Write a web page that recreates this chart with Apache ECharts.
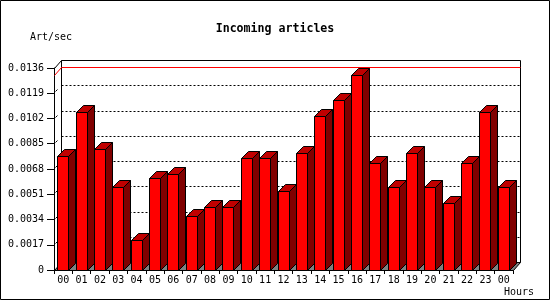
<!DOCTYPE html>
<html>
<head>
<meta charset="utf-8">
<script src="https://cdn.jsdelivr.net/npm/echarts@6/dist/echarts.min.js"></script>
<style>html,body{margin:0;padding:0;background:#fff}#c{width:550px;height:300px}</style>
</head>
<body>
<div id="c"></div>
<script>
const hours = ['00','01','02','03','04','05','06','07','08','09','10','11','12','13','14','15','16','17','18','19','20','21','22','23','00'];
const artPerSec = [0.00768, 0.01062, 0.00815, 0.00557, 0.00202, 0.00617, 0.00644, 0.00361, 0.00422, 0.00422, 0.00752, 0.00752, 0.00530, 0.00786, 0.01037, 0.01145, 0.01311, 0.00723, 0.00557, 0.00786, 0.00557, 0.00449, 0.00723, 0.01062, 0.00557];
const yTickLabels = ['0','0.0017','0.0034','0.0051','0.0068','0.0085','0.0102','0.0119','0.0136'];
const yMin = 0, yMax = 0.0136, yStep = 0.0017;

const FONT = 'DejaVu Sans Mono';
const DX = 7, DY = 8;      // depth of the back plane
const BD = 7;              // depth of a bar
const BW = 11;             // bar front width
const maxVal = Math.max.apply(null, artPerSec);

function seg(x1, y1, x2, y2, color, z2, dash) {
  return {type: 'line', z2: z2, shape: {x1: x1, y1: y1, x2: x2, y2: y2},
    style: {stroke: color, lineWidth: 1, lineDash: dash || null}};
}

function renderItem(params, api) {
  const i = api.value(0), v = api.value(1);
  const band = api.size([1, 0])[0];
  const pTop = api.coord([i, v]);
  const pBase = api.coord([i, 0]);
  const x0 = Math.round(pBase[0] - 6) + 0.5;
  const yT = Math.round(pTop[1]) + 0.5;
  const yB = Math.round(pBase[1]) + 0.5;
  const children = [];
  if (params.dataIndex === 0) {
    const n = artPerSec.length;
    const xL = Math.round(api.coord([0, 0])[0] - band / 2) + 0.5;
    const xR = Math.round(api.coord([n - 1, 0])[0] + band / 2) + 0.5;
    const yTopAxis = Math.round(api.coord([0, yMax])[1]) + 0.5;
    const yM = Math.round(api.coord([0, maxVal])[1]) + 0.5;
    // back plane gridlines (dotted)
    for (let k = 1; k < yTickLabels.length - 1; k++) {
      const yy = Math.round(api.coord([0, yMin + k * yStep])[1]) + 0.5;
      children.push(seg(xL + DX, yy - DY, xR + DX, yy - DY, '#000', 0, [2, 2]));
      children.push(seg(xL + 1, yy - 2, xL + 3, yy - 4, '#000', 0));
    }
    // back plane border
    children.push(seg(xL + DX, yTopAxis - DY, xR + DX, yTopAxis - DY, '#000', 0));
    children.push(seg(xR + DX, yTopAxis - DY, xR + DX, yB - DY, '#000', 0));
    children.push(seg(xL + DX, yTopAxis - DY, xL + DX, yB - DY, '#000', 0));
    children.push(seg(xL, yTopAxis, xL + DX, yTopAxis - DY, '#000', 0));
    // red max line
    children.push(seg(xL, yM, xL + DX, yM - DY, '#ff0000', 1));
    children.push(seg(xL + DX, yM - DY, xR + DX, yM - DY, '#ff0000', 1));
    // floor
    children.push({type: 'polygon', z2: 2, shape: {points: [[xL, yB], [xL + DX, yB - DY], [xR + DX, yB - DY], [xR, yB]]},
      style: {fill: '#808080', stroke: '#000', lineWidth: 1}});
  }
  children.push({type: 'polygon', z2: 10, shape: {points: [[x0, yT], [x0 + BW, yT], [x0 + BW, yB], [x0, yB]]},
    style: {fill: '#ff0000', stroke: '#000', lineWidth: 1}});
  children.push({type: 'polygon', z2: 10, shape: {points: [[x0, yT], [x0 + BD, yT - BD], [x0 + BW + BD, yT - BD], [x0 + BW, yT]]},
    style: {fill: '#c00000', stroke: '#000', lineWidth: 1}});
  children.push({type: 'polygon', z2: 10, shape: {points: [[x0 + BW, yT], [x0 + BW + BD, yT - BD], [x0 + BW + BD, yB - BD], [x0 + BW, yB]]},
    style: {fill: '#800000', stroke: '#000', lineWidth: 1}});
  return {type: 'group', children: children};
}

const chart = echarts.init(document.getElementById('c'), null, {renderer: 'canvas'});
chart.setOption({
  backgroundColor: '#fff',
  animation: false,
  title: {
    text: 'Incoming articles', left: 'center', top: 18,
    textStyle: {fontFamily: FONT, fontSize: 11.6, fontWeight: 'bold', color: '#000'}
  },
  graphic: [
    {type: 'rect', shape: {x: 0.5, y: 0.5, width: 549, height: 299}, style: {fill: null, stroke: '#000', lineWidth: 1}, silent: true},
    {type: 'text', left: 30, top: 32, style: {text: 'Art/sec', font: '10px "DejaVu Sans Mono"', fill: '#000'}},
    {type: 'text', left: 504, top: 287, style: {text: 'Hours', font: '10px "DejaVu Sans Mono"', fill: '#000'}}
  ],
  grid: [
    {left: 54, right: 37, top: 68, bottom: 30, outerBoundsMode: 'none', containLabel: false}
  ],
  xAxis: [
    {type: 'category', data: hours, boundaryGap: true,
     axisLine: {show: true, lineStyle: {color: '#000', width: 1}},
     axisTick: {show: true, interval: 0, length: 4, lineStyle: {color: '#000'}},
     axisLabel: {interval: 0, margin: 5, color: '#000', fontFamily: FONT, fontSize: 10},
     splitLine: {show: false}}
  ],
  yAxis: [
    {type: 'value', min: yMin, max: yMax, interval: yStep,
     axisLine: {show: true, lineStyle: {color: '#000', width: 1}},
     axisTick: {show: true, length: 7, lineStyle: {color: '#000'}},
     axisLabel: {margin: 10, color: '#000', fontFamily: FONT, fontSize: 10,
       formatter: function (v) { return yTickLabels[Math.round((v - yMin) / yStep)]; }},
     splitLine: {show: false}}
  ],
  series: [{
    type: 'custom',
    renderItem: renderItem, clip: false,
    data: artPerSec.map(function (v, i) { return [i, v]; })
  }]
});
</script>
</body>
</html>
